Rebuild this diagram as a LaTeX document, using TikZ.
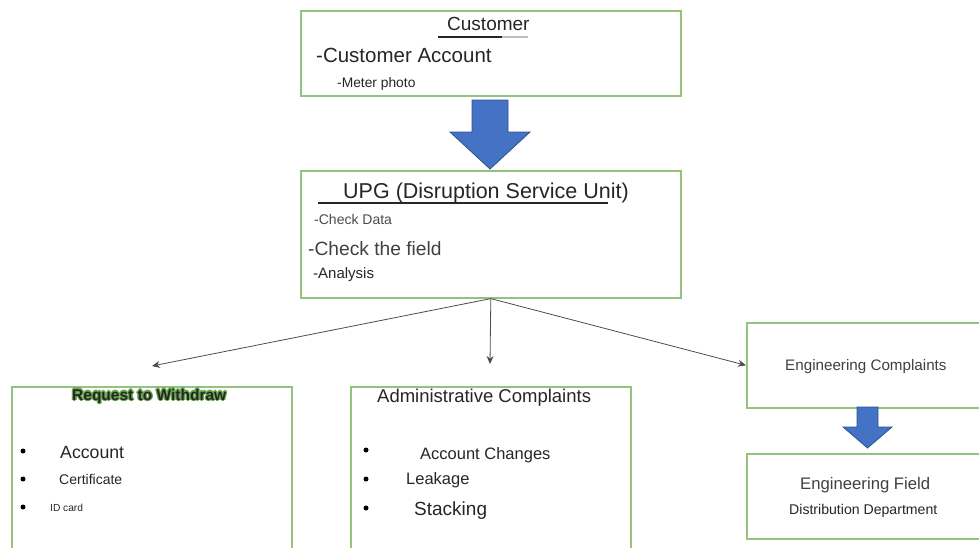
\documentclass[tikz,border=0pt]{standalone}
\usepackage{fontspec}
\setmainfont{Liberation Sans}
\usetikzlibrary{calc}
\usetikzlibrary{arrows.meta}

\definecolor{boxgreen}{HTML}{93C47D}
\definecolor{halogreen}{HTML}{6AA84F}
\definecolor{arrowblue}{HTML}{4472C4}
\definecolor{arrowedge}{HTML}{2F528F}
\definecolor{inkgray}{HTML}{262626}

\tikzstyle{panel}=[draw=boxgreen,line width=1.6pt,fill=white,anchor=north west,inner sep=0pt]
\tikzstyle{txt}=[anchor=base west,inner sep=0pt,text=inkgray]
\tikzstyle{fan}=[draw=black!70,line width=0.8pt,-{Stealth[length=8pt,width=7pt]}]
\tikzstyle{blob}=[fill=black,circle,inner sep=0pt,minimum size=5pt]

\newcommand{\fs}[1]{\fontsize{#1}{#1}\selectfont}
% green glow behind a text, all in one box
\newcommand{\haloed}[1]{%
\rlap{\hspace{1.3pt}\textcolor{halogreen}{#1}}%
\rlap{\hspace{-1.3pt}\textcolor{halogreen}{#1}}%
\rlap{\raisebox{1.3pt}{\textcolor{halogreen}{#1}}}%
\rlap{\raisebox{-1.3pt}{\textcolor{halogreen}{#1}}}%
\rlap{\hspace{0.9pt}\raisebox{0.9pt}{\textcolor{halogreen}{#1}}}%
\rlap{\hspace{-0.9pt}\raisebox{0.9pt}{\textcolor{halogreen}{#1}}}%
\rlap{\hspace{0.9pt}\raisebox{-0.9pt}{\textcolor{halogreen}{#1}}}%
\rlap{\hspace{-0.9pt}\raisebox{-0.9pt}{\textcolor{halogreen}{#1}}}%
#1}
\newcommand{\blockarrow}[7][arrowblue]{
\pgfmathsetmacro{\cx}{#2}
\pgfmathsetmacro{\sw}{#6} % half width of the shaft
\pgfmathsetmacro{\hw}{#7} % half width of the head
\draw[fill=#1,draw=arrowedge,line width=0.8pt,line join=miter]
  (\cx-\sw,#3) -- (\cx+\sw,#3) -- (\cx+\sw,#4) -- (\cx+\hw,#4) -- (\cx,#5) -- (\cx-\hw,#4) -- (\cx-\sw,#4) -- cycle;
}

\begin{document}
\begin{tikzpicture}[x=1pt,y=-1pt]
	\useasboundingbox (0,0) rectangle (979,547);
	\clip (0,0) rectangle (979,547);
	% boxes
	\node[panel,minimum width=380pt,minimum height=85pt] (cust) at (300,10) {};
	\node[panel,minimum width=380pt,minimum height=127pt] (upg) at (300,170) {};
	\node[panel,minimum width=280pt,minimum height=200pt] (req) at (11,386) {};
	\node[panel,minimum width=280pt,minimum height=200pt] (adm) at (350,386) {};
	\node[panel,minimum width=250pt,minimum height=85pt] (engc) at (746,322) {};
	\node[panel,minimum width=250pt,minimum height=85pt] (engf) at (746,453) {};

	% customer
	\node[txt,font=\fs{19}] (custtitle) at (447,30) {Customer};
	\draw[line width=1.5pt,black!85] (438,37) -- (502,37);
	\draw[line width=1.2pt,black!25] (502,37) -- (528,37);
	\node[txt,font=\fs{20.5}] (custacc) at (316,62) {-Customer Account};
	\node[txt,font=\fs{13.8}] (meter) at (337,87) {-Meter photo};

	\blockarrow{490}{100}{132}{169}{18}{40}

	% UPG
	\node[txt,font=\fs{21.5}] (upgtitle) at (343,198) {UPG (Disruption Service Unit)};
	\draw[line width=1.3pt,black!85] (318,203) -- (608,203);
	\node[txt,font=\fs{14},text=black!70] (chkdata) at (314,224) {-Check Data};
	\node[txt,font=\fs{19.2},text=black!75] (chkfield) at (308,255) {-Check the field};
	\node[txt,font=\fs{15}] (analysis) at (313,278) {-Analysis};

	% fan out
	\coordinate (reqtip) at (152,366);
	\coordinate (admtip) at (490,364);
	\draw[fan] (upg.south) -- (reqtip);
	\draw[fan] (upg.south) -- (admtip);
	\draw[fan] (upg.south) -- (engc.west);

	% request to withdraw
	\node[txt,font=\bfseries\fs{15.5}] (reqtitle) at (72,400) {\haloed{Request to Withdraw}};
	\node[blob] (b1) at (23,451) {};
	\node[blob] (b2) at (23,479) {};
	\node[blob] (b3) at (23,507) {};
	\node[txt,font=\fs{17.7}] (racc) at (60,458) {Account};
	\node[txt,font=\fs{14}] (rcert) at (59,484) {Certificate};
	\node[txt,font=\fs{10.2}] (rid) at (50,511) {ID card};

	% administrative
	\node[txt,font=\fs{18.5}] (admtitle) at (377,402) {Administrative Complaints};
	\node[blob] (c1) at (366,450) {};
	\node[blob] (c2) at (366,479) {};
	\node[blob] (c3) at (366,508) {};
	\node[txt,font=\fs{16.5}] (achg) at (420,459) {Account Changes};
	\node[txt,font=\fs{16.5}] (leak) at (406,484) {Leakage};
	\node[txt,font=\fs{19}] (stack) at (414,515) {Stacking};

	% engineering
	\node[txt,font=\fs{15.2},text=black!75] (engctxt) at (785,370) {Engineering Complaints};
	\blockarrow{867.5}{407}{427}{448}{10.5}{24.5}
	\node[txt,font=\fs{16.7},text=black!75] (engftxt) at (800,489) {Engineering Field};
	\node[txt,font=\fs{14.1}] (dist) at (789,514) {Distribution Department};
\end{tikzpicture}
\end{document}
